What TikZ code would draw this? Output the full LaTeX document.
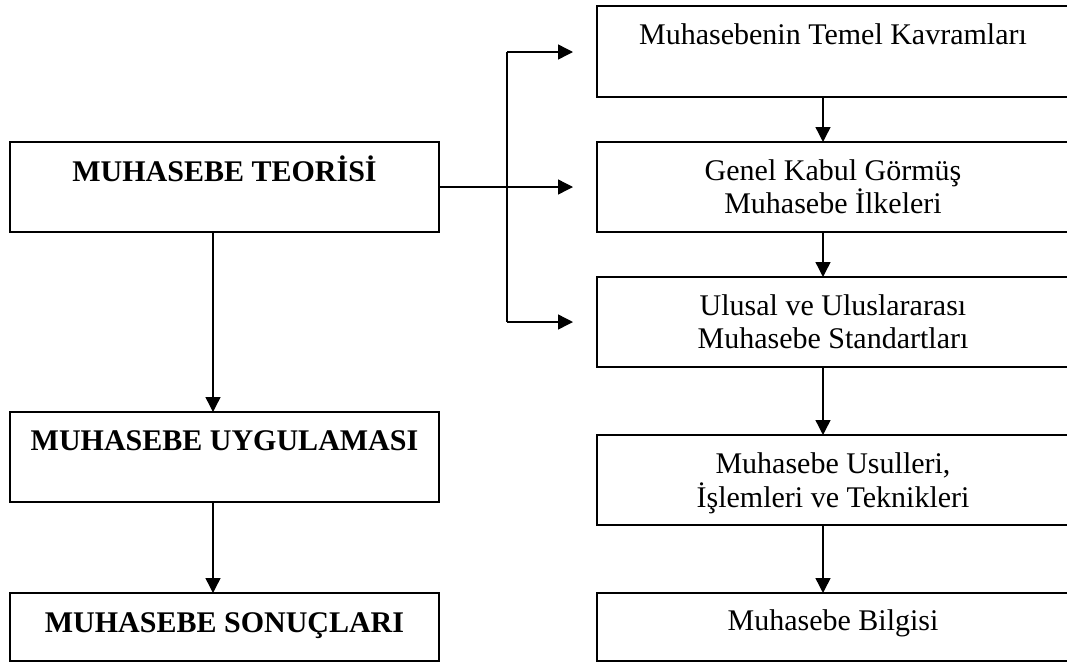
\documentclass[tikz,border=0pt]{standalone}
\usepackage{fontspec}
\setmainfont{Liberation Serif}
\usetikzlibrary{arrows.meta}
\begin{document}
\begin{tikzpicture}[x=1pt,y=-1pt,
  box/.style={draw=black,line width=1.8pt,minimum width=#1,minimum height=0pt,inner sep=0pt,outer sep=0pt},
  txt/.style={anchor=base,inner sep=0pt,font=\fontsize{30}{33}\selectfont},
  btxt/.style={txt,font=\fontsize{30}{33}\selectfont\bfseries},
  conn/.style={draw=black,line width=1.4pt},
  arr/.style={conn,-{Triangle[length=15pt,width=15pt]}}]
\useasboundingbox (0,0) rectangle (1067,662);
% left boxes
\node[box=429pt,minimum height=90pt] (teori) at (224.5,187) {};
\node[box=429pt,minimum height=90pt] (uyg) at (224.5,457) {};
\node[box=429pt,minimum height=68pt] (son) at (224.5,627) {};
% right boxes
\node[box=472pt,minimum height=91pt] (kav) at (833,51.5) {};
\node[box=472pt,minimum height=90pt] (gen) at (833,187) {};
\node[box=472pt,minimum height=90pt] (ulu) at (833,322) {};
\node[box=472pt,minimum height=90pt] (usu) at (833,480) {};
\node[box=472pt,minimum height=68pt] (bil) at (833,627) {};
% texts
\node[btxt] (teoriT) at (224.5,181) {MUHASEBE TEORİSİ};
\node[btxt] (uygT) at (224.5,450) {MUHASEBE UYGULAMASI};
\node[btxt] (sonT) at (224.5,632) {MUHASEBE SONUÇLARI};
\node[txt] (kavT) at (833,44) {Muhasebenin Temel Kavramları};
\node[txt] (genT1) at (833,180) {Genel Kabul Görmüş};
\node[txt] (genT2) at (833,213) {Muhasebe İlkeleri};
\node[txt] (uluT1) at (833,315) {Ulusal ve Uluslararası};
\node[txt] (uluT2) at (833,348) {Muhasebe Standartları};
\node[txt] (usuT1) at (833,473) {Muhasebe Usulleri,};
\node[txt] (usuT2) at (833,507) {İşlemleri ve Teknikleri};
\node[txt] (bilT) at (833,630) {Muhasebe Bilgisi};
% helper coordinates
\coordinate (lx) at (213,0);
\coordinate (rx) at (823,0);
\coordinate (btop) at (507,52);
\coordinate (bbot) at (507,322);
\coordinate (a1) at (573,52);
\coordinate (a2) at (573,187);
\coordinate (a3) at (573,322);
% bracket connectors
\draw[conn] (btop) -- (bbot);
\draw[arr] (btop) -- (a1);
\draw[arr] (bbot) -- (a3);
\draw[arr] (teori.east) -- (a2);
% left vertical
\draw[arr] (teori.south -| lx) -- (uyg.north -| lx);
\draw[arr] (uyg.south -| lx) -- (son.north -| lx);
% right vertical
\draw[arr] (kav.south -| rx) -- (gen.north -| rx);
\draw[arr] (gen.south -| rx) -- (ulu.north -| rx);
\draw[arr] (ulu.south -| rx) -- (usu.north -| rx);
\draw[arr] (usu.south -| rx) -- (bil.north -| rx);
\end{tikzpicture}
\end{document}
